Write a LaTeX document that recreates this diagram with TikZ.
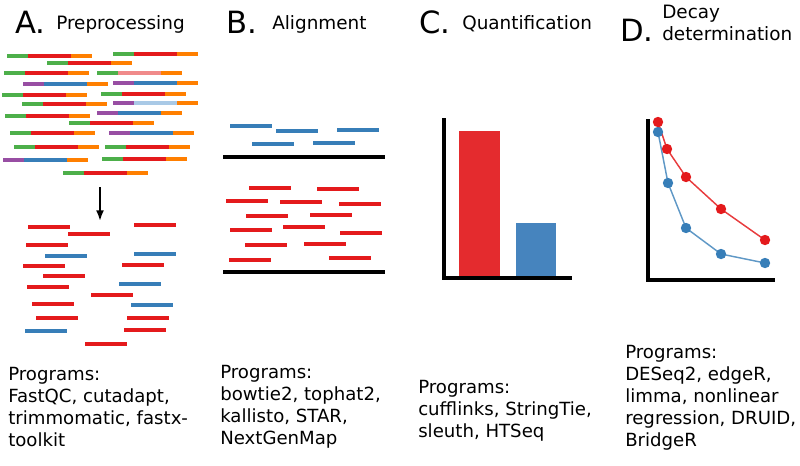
\documentclass[tikz,border=0pt]{standalone}
\usepackage{fontspec}
\setmainfont{DejaVu Sans}
\usetikzlibrary{arrows.meta}
\definecolor{ReadRed}{HTML}{E41A1C}
\definecolor{ReadBlue}{HTML}{377EB8}
\definecolor{ReadGreen}{HTML}{4DAF4A}
\definecolor{ReadPurple}{HTML}{984EA3}
\definecolor{ReadOrange}{HTML}{FF7F00}
\definecolor{ReadPink}{HTML}{F08A8A}
\definecolor{ReadSky}{HTML}{A9C9E6}
\definecolor{BarRed}{HTML}{E42B2E}
\definecolor{BarBlue}{HTML}{4684BE}
\tikzset{
  seg/.style={line width=2.7pt},
  refline/.style={line width=3pt, draw=black},
  axisline/.style={line width=3.2pt, draw=black},
  arr/.style={-{Latex[length=8pt,width=6pt]}, line width=1.5pt, draw=black},
  letter/.style={anchor=base west, inner sep=0pt, font=\fontsize{23}{23}\selectfont},
  heading/.style={anchor=base west, inner sep=0pt, align=left, font=\fontsize{13.8}{16.5}\selectfont},
  prog/.style={anchor=base west, inner sep=0pt, align=left, font=\fontsize{13.6}{16.5}\selectfont},
  ptdot/.style={circle, inner sep=0pt, minimum size=7.8pt}
}

\begin{document}
\begin{tikzpicture}[x=.75pt,y=-.75pt]
\useasboundingbox (0,0) rectangle (800,465);
% titles
\node[letter] (labA) at (15,33) {A.};
\node[heading] (nameA) at (56,29) {Preprocessing};
\node[letter] (labB) at (226,33) {B.};
\node[heading] (nameB) at (272,29) {Alignment};
\node[letter] (labC) at (419,33) {C.};
\node[heading] (nameC) at (462,29) {Quantification};
\node[letter] (labD) at (620,41) {D.};
\node[heading] (nameD) at (662,40) {Decay\\determination};
% A: raw reads with adapters
\foreach \x/\y/\c/\m in {7/56/ReadGreen/ReadRed,113/54/ReadGreen/ReadRed,47/63/ReadGreen/ReadRed,
  4/73/ReadGreen/ReadRed,97/73/ReadGreen/ReadPink,23/84/ReadPurple/ReadBlue,113/83/ReadPurple/ReadBlue,
  2/95/ReadGreen/ReadRed,101/94/ReadGreen/ReadRed,22/104/ReadGreen/ReadRed,113/103/ReadPurple/ReadSky,
  5/116/ReadGreen/ReadRed,97/113/ReadPurple/ReadBlue,69/123/ReadGreen/ReadRed,10/133/ReadGreen/ReadRed,
  109/133/ReadPurple/ReadBlue,14/147/ReadGreen/ReadRed,105/147/ReadGreen/ReadRed,3/160/ReadPurple/ReadBlue,
  102/159/ReadGreen/ReadRed,63/173/ReadGreen/ReadRed}{
  \draw[seg,draw=\c] (\x,\y) -- ++(21,0);
  \draw[seg,draw=\m] (\x+21,\y) -- ++(43,0);
  \draw[seg,draw=ReadOrange] (\x+64,\y) -- ++(21,0);
}
\coordinate (trimtop) at (100,187);
\coordinate (trimbot) at (100,221);
\draw[arr] (trimtop) -- (trimbot);
% A: trimmed reads
\foreach \x/\y/\c in {28/227/ReadRed,68/234/ReadRed,134/225/ReadRed,26/245/ReadRed,45/256/ReadBlue,
  134/254/ReadBlue,23/266/ReadRed,122/265/ReadRed,43/276/ReadRed,27/287/ReadRed,119/284/ReadBlue,
  91/295/ReadRed,32/304/ReadRed,131/305/ReadBlue,36/318/ReadRed,127/318/ReadRed,25/331/ReadBlue,
  124/330/ReadRed,85/344/ReadRed}{
  \draw[seg,draw=\c] (\x,\y) -- ++(42,0);
}
% B: alignment
\foreach \x/\y in {230/126,276/131,337/130,252/144,313/143}{
  \draw[seg,draw=ReadBlue] (\x,\y) -- ++(42,0);
}
\draw[refline] (223,157) -- (385,157);
\foreach \x/\y in {249/188,317/189,226/201,280/202,339/204,246/216,310/215,230/230,283/227,
  340/233,245/245,304/244,229/260,329/258}{
  \draw[seg,draw=ReadRed] (\x,\y) -- ++(42,0);
}
\draw[refline] (223,272) -- (385,272);
% C: quantification
\fill[BarRed] (459,131) rectangle (500,277);
\fill[BarBlue] (516,223) rectangle (556,277);
\draw[axisline] (444,118) |- (572,278);
% D: decay curves
\draw[axisline] (648,119) |- (775,280);
\draw[ReadBlue!80,line width=1.1pt] (658,132) -- (668,183) -- (686,228) -- (721,254) -- (765,263);
\draw[ReadRed!85,line width=1.1pt] (658,122) -- (667,149) -- (686,177) -- (721,209) -- (765,240);
\foreach \x/\y in {658/132,668/183,686/228,721/254,765/263}{
  \node[ptdot,fill=ReadBlue] at (\x,\y) {};
}
\foreach \x/\y in {658/122,667/149,686/177,721/209,765/240}{
  \node[ptdot,fill=ReadRed] at (\x,\y) {};
}
% programs
\node[prog] (progA) at (8,446) {Programs:\\FastQC, cutadapt,\\trimmomatic, fastx-\\toolkit};
\node[prog] (progB) at (220,444) {Programs:\\bowtie2, tophat2,\\kallisto, STAR,\\NextGenMap};
\node[prog] (progC) at (418,437) {Programs:\\cufflinks, StringTie,\\sleuth, HTSeq};
\node[prog] (progD) at (625,446) {Programs:\\DESeq2, edgeR,\\limma, nonlinear\\regression, DRUID,\\BridgeR};
\end{tikzpicture}
\end{document}
